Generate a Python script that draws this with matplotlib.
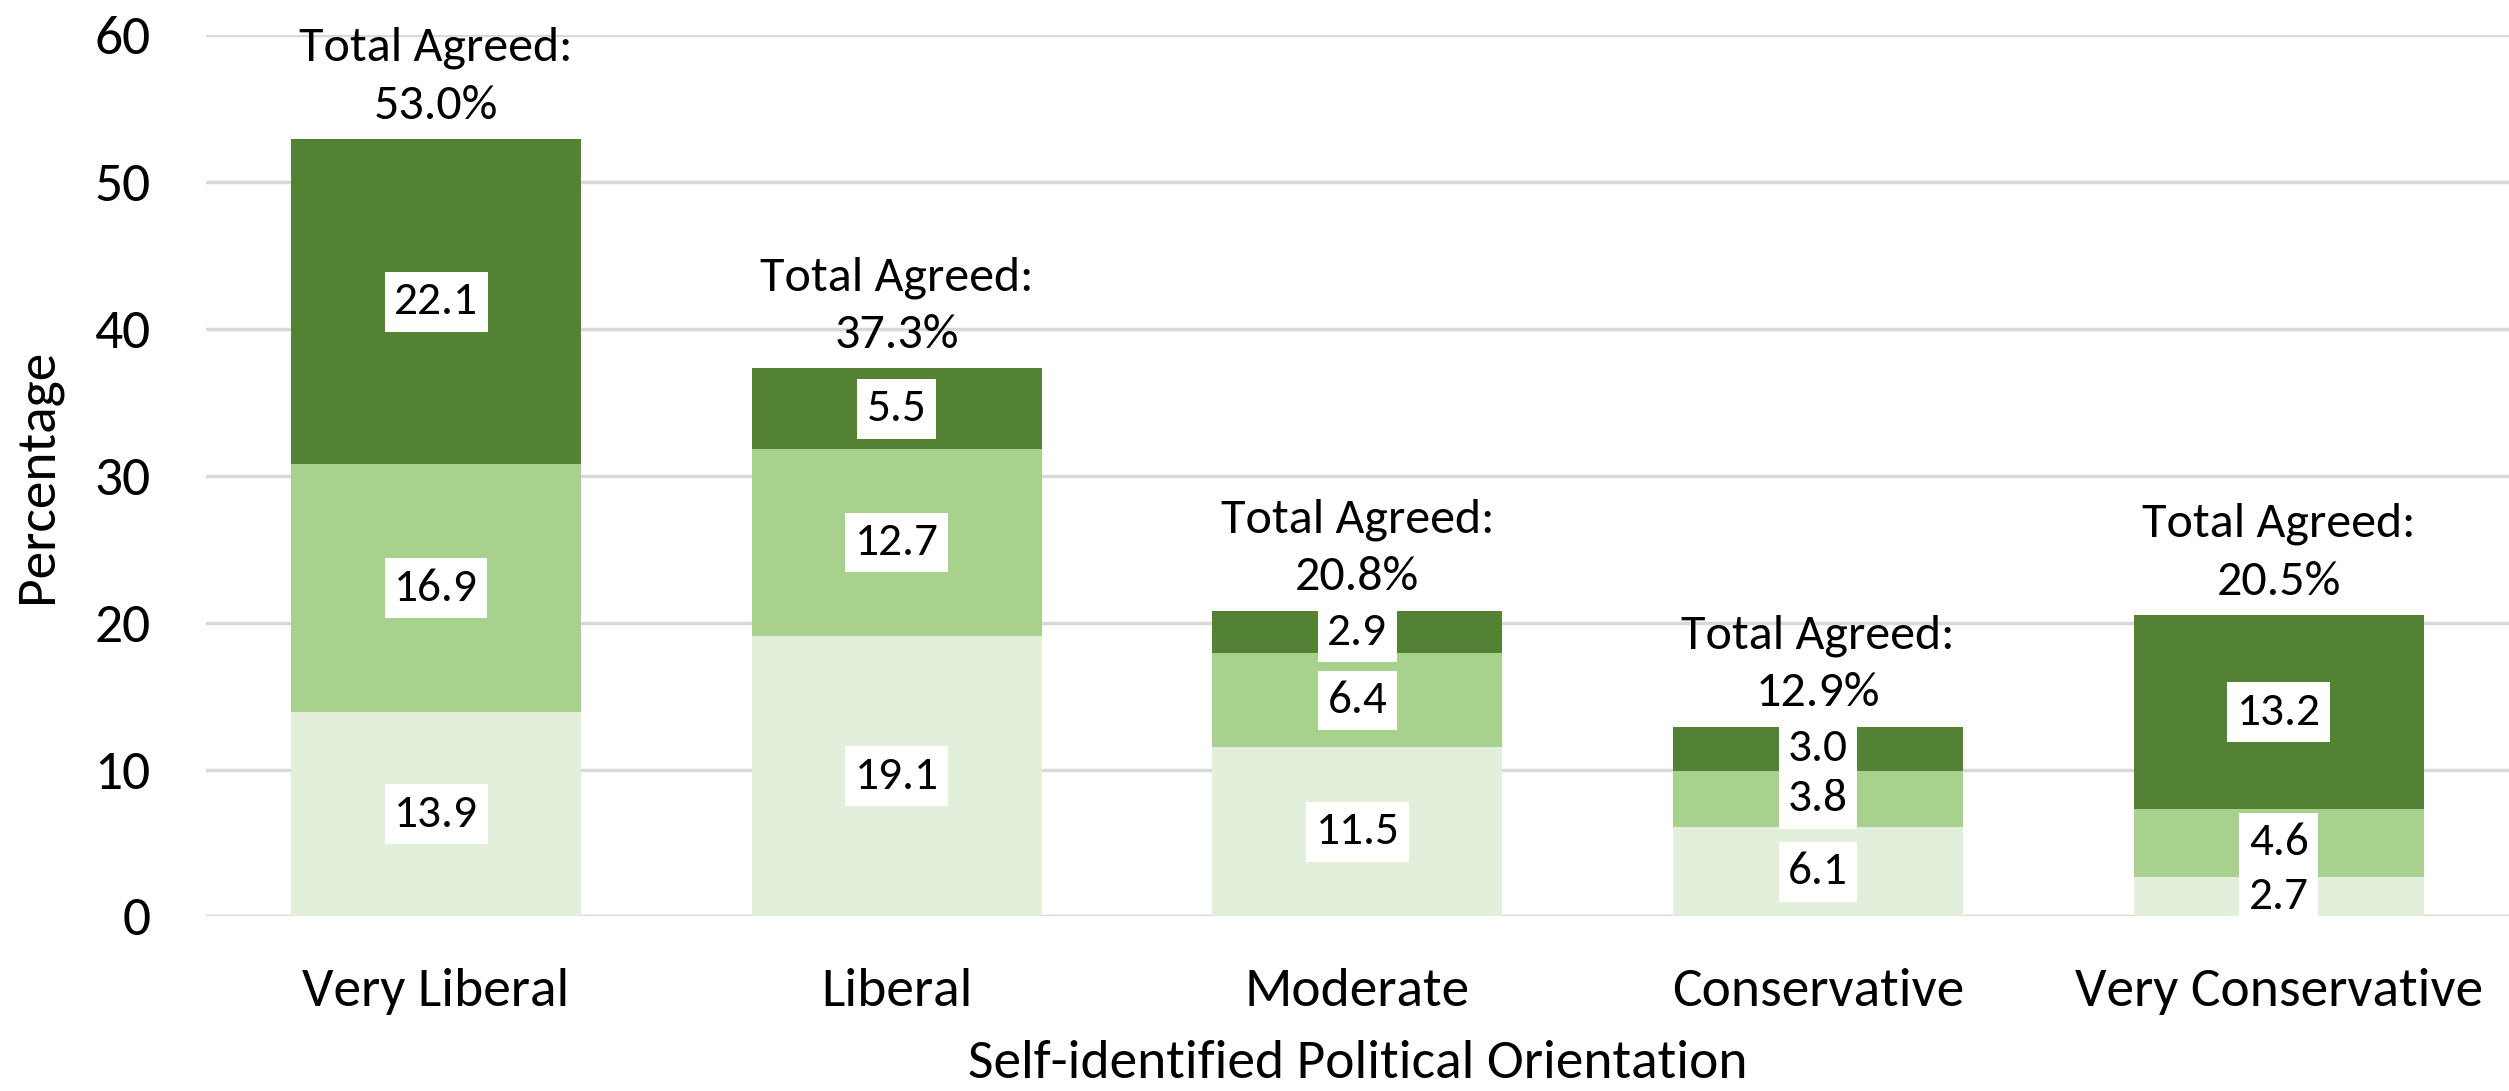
import matplotlib
matplotlib.use("Agg")
import matplotlib.pyplot as plt
import numpy as np

plt.rcParams['font.family'] = ['Carlito', 'PT Sans', 'DejaVu Sans']

categories = ["Very Liberal", "Liberal", "Moderate", "Conservative", "Very Conservative"]
seg_low = [13.9, 19.1, 11.5, 6.1, 2.7]
seg_mid = [16.9, 12.7, 6.4, 3.8, 4.6]
seg_high = [22.1, 5.5, 2.9, 3.0, 13.2]
totals = ["53.0%", "37.3%", "20.8%", "12.9%", "20.5%"]

colors = ["#E2EFDA", "#A9D18E", "#548235"]

fig = plt.figure(figsize=(25.09, 10.91), dpi=100)
ax = fig.add_axes([0.082, 0.16, 0.918, 0.808])

x = np.arange(len(categories))
bottom = np.zeros(len(categories))
for vals, c in zip([seg_low, seg_mid, seg_high], colors):
    vals = np.array(vals)
    ax.bar(x, vals, bottom=bottom, width=0.63, color=c, zorder=2)
    for xi, b, v in zip(x, bottom, vals):
        ax.text(xi, b + v / 2, f"{v:.1f}", ha="center", va="center", fontsize=34,
                zorder=4, clip_on=True,
                bbox=dict(boxstyle="square,pad=0.2", fc="white", ec="none"))
    bottom = bottom + vals

for xi, top, t in zip(x, bottom, totals):
    ax.annotate(f"Total Agreed:\n{t}", (xi, top), xytext=(0, 9),
                textcoords="offset points", ha="center", va="bottom",
                fontsize=36, linespacing=1.45)

ax.set_xlim(-0.5, 4.5)
ax.set_ylim(0, 60)
ax.set_yticks(np.arange(0, 61, 10))
ax.set_xticks(x)
ax.set_xticklabels(categories)
ax.tick_params(axis="both", length=0, labelsize=40)
ax.tick_params(axis="x", pad=37)
ax.tick_params(axis="y", pad=40)
ax.yaxis.grid(True, color="#D9D9D9", linewidth=2.5, zorder=0)
ax.set_axisbelow(True)
for s in ax.spines.values():
    s.set_visible(False)

ax.set_ylabel("Percentage", fontsize=40, labelpad=24)
ax.set_xlabel("Self-identified Political Orientation", fontsize=40, labelpad=18)

fig.savefig("out.png", dpi=100)
